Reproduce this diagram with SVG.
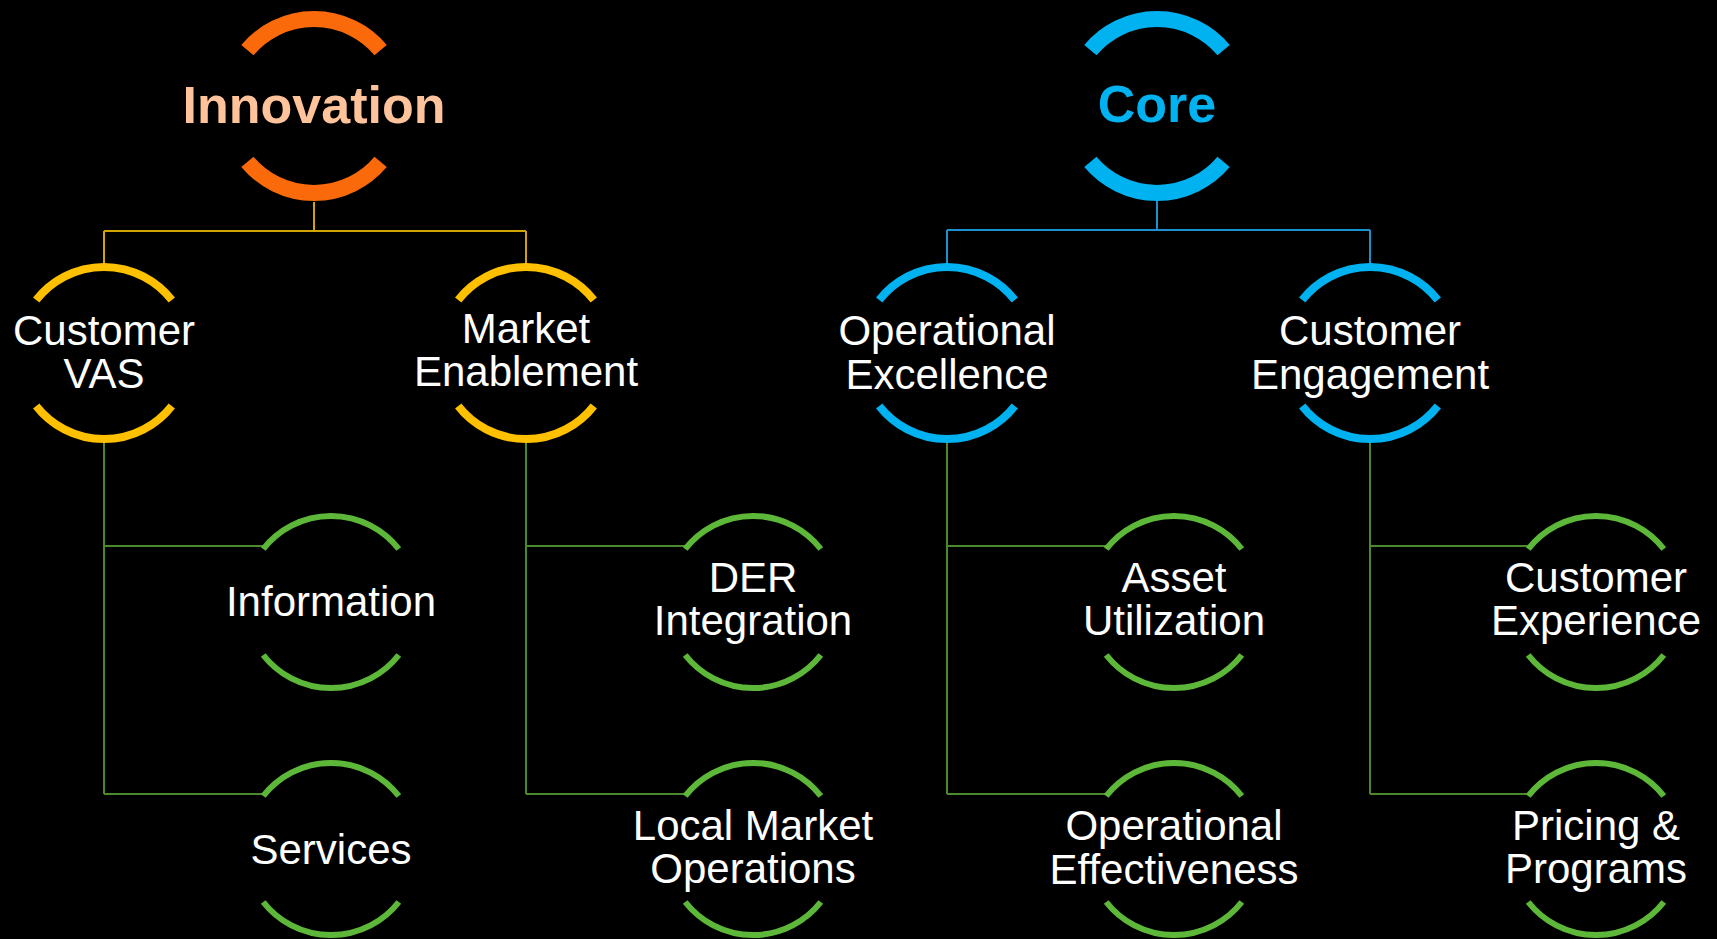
<svg xmlns="http://www.w3.org/2000/svg" xmlns:xlink="http://www.w3.org/1999/xlink" width="1717" height="939" viewBox="0 0 1717 939">
  <style>
    .ring { fill: none; stroke-linecap: butt; }
    .big { stroke-width: 16; }
    .mid { stroke-width: 8; }
    .small { stroke-width: 6; }
    .orange { stroke: #FA6A0A; }
    .blue { stroke: #00B2F0; }
    .yellow { stroke: #FFC000; }
    .green { stroke: #5DB83A; }
    .lbl { font-family: "Liberation Sans", Arial, sans-serif; font-size: 42px; fill: #FFFFFF; text-anchor: middle; }
    .title { font-family: "Liberation Sans", Arial, sans-serif; font-size: 52px; font-weight: bold; text-anchor: middle; }
    .conn { fill: none; stroke-width: 2; }
    .c-yellow { stroke: #D2A400; }
    .c-blue { stroke: #1A90CF; }
    .c-green { stroke: #4A8A2C; }
  </style>
  <defs>
    <path id="ringTop" d="M-66.6,-55.9 A87,87 0 0 1 66.6,-55.9 M-66.6,55.9 A87,87 0 0 0 66.6,55.9"/>
    <path id="ring" d="M-67.8,-53 A86,86 0 0 1 67.8,-53 M-67.8,53 A86,86 0 0 0 67.8,53"/>
  </defs>
  <rect x="0" y="0" width="1717" height="939" fill="#000000"/>

  <g id="connectors">
    <!-- Innovation tree -->
    <path class="conn c-yellow" d="M314,202 V231 M104,231 H526 M104,231 V264 M526,231 V264"/>
    <path class="conn c-green" d="M104,443 V794 M104,546 H263 M104,794 H263"/>
    <path class="conn c-green" d="M526,443 V794 M526,546 H685 M526,794 H685"/>
    <!-- Core tree -->
    <path class="conn c-blue" d="M1157,201 V230 M947,230 H1370 M947,230 V264 M1370,230 V264"/>
    <path class="conn c-green" d="M947,443 V794 M947,546 H1106 M947,794 H1106"/>
    <path class="conn c-green" d="M1370,443 V794 M1370,546 H1528 M1370,794 H1528"/>
  </g>

  <g id="innovation">
    <use xlink:href="#ringTop" class="ring big orange" x="314" y="106"/>
    <text class="title" x="314" y="123" fill="#FFC39B">Innovation</text>
  </g>
  <g id="core">
    <use xlink:href="#ringTop" class="ring big blue" x="1157" y="106"/>
    <text class="title" x="1157" y="122" fill="#00B2F0">Core</text>
  </g>

  <g id="customer-vas">
    <use xlink:href="#ring" class="ring mid yellow" x="104" y="353"/>
    <text class="lbl" x="104" y="345">Customer</text>
    <text class="lbl" x="104" y="388">VAS</text>
  </g>
  <g id="market-enablement">
    <use xlink:href="#ring" class="ring mid yellow" x="526" y="353"/>
    <text class="lbl" x="526" y="343">Market</text>
    <text class="lbl" x="526" y="386">Enablement</text>
  </g>
  <g id="operational-excellence">
    <use xlink:href="#ring" class="ring mid blue" x="947" y="353"/>
    <text class="lbl" x="947" y="345">Operational</text>
    <text class="lbl" x="947" y="389">Excellence</text>
  </g>
  <g id="customer-engagement">
    <use xlink:href="#ring" class="ring mid blue" x="1370" y="353"/>
    <text class="lbl" x="1370" y="345">Customer</text>
    <text class="lbl" x="1370" y="389">Engagement</text>
  </g>

  <g id="information">
    <use xlink:href="#ring" class="ring small green" x="331" y="602"/>
    <text class="lbl" x="331" y="616">Information</text>
  </g>
  <g id="services">
    <use xlink:href="#ring" class="ring small green" x="331" y="849"/>
    <text class="lbl" x="331" y="864">Services</text>
  </g>
  <g id="der-integration">
    <use xlink:href="#ring" class="ring small green" x="753" y="602"/>
    <text class="lbl" x="753" y="592">DER</text>
    <text class="lbl" x="753" y="635">Integration</text>
  </g>
  <g id="local-market-operations">
    <use xlink:href="#ring" class="ring small green" x="753" y="849"/>
    <text class="lbl" x="753" y="840">Local Market</text>
    <text class="lbl" x="753" y="883">Operations</text>
  </g>
  <g id="asset-utilization">
    <use xlink:href="#ring" class="ring small green" x="1174" y="602"/>
    <text class="lbl" x="1174" y="592">Asset</text>
    <text class="lbl" x="1174" y="635">Utilization</text>
  </g>
  <g id="operational-effectiveness">
    <use xlink:href="#ring" class="ring small green" x="1174" y="849"/>
    <text class="lbl" x="1174" y="840">Operational</text>
    <text class="lbl" x="1174" y="884">Effectiveness</text>
  </g>
  <g id="customer-experience">
    <use xlink:href="#ring" class="ring small green" x="1596" y="602"/>
    <text class="lbl" x="1596" y="592">Customer</text>
    <text class="lbl" x="1596" y="635">Experience</text>
  </g>
  <g id="pricing-programs">
    <use xlink:href="#ring" class="ring small green" x="1596" y="849"/>
    <text class="lbl" x="1596" y="840">Pricing &amp;</text>
    <text class="lbl" x="1596" y="883">Programs</text>
  </g>
</svg>
